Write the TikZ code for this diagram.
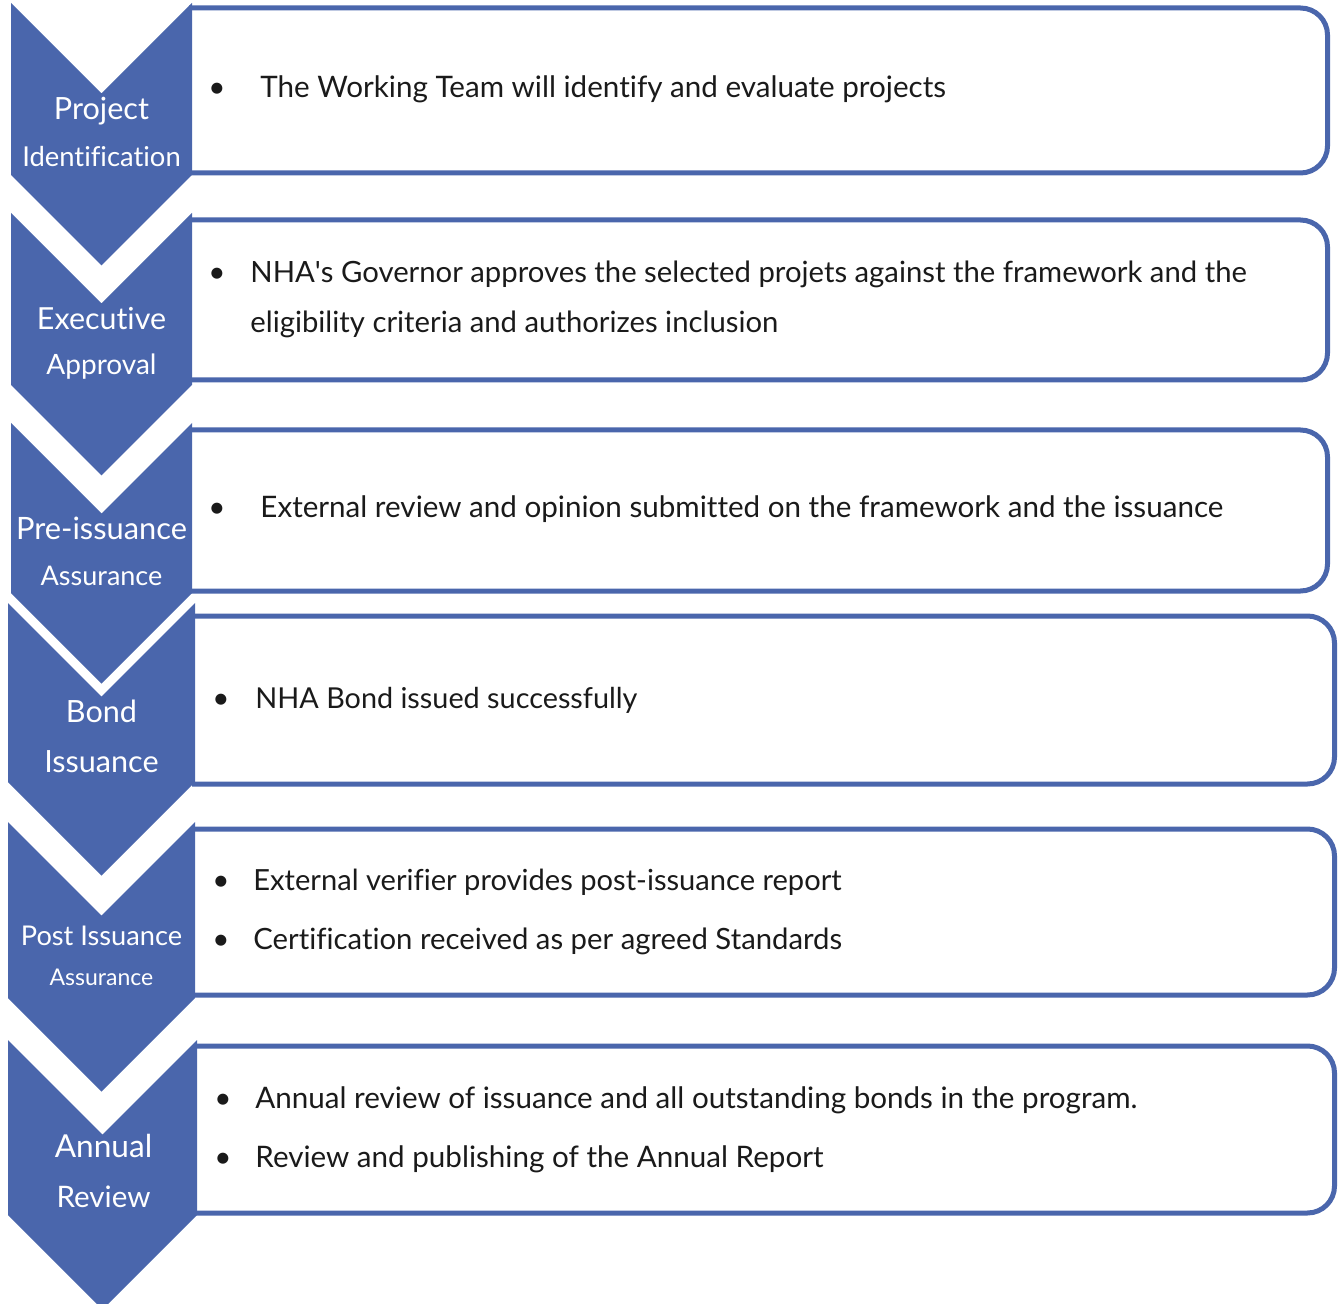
\documentclass[tikz,border=0pt]{standalone}
\usepackage{fontspec}
\setmainfont{Lato}[Ligatures={NoCommon}]
\definecolor{stepblue}{HTML}{4A66AC}
\definecolor{inktext}{HTML}{1A1A1A}
\newcommand{\fsz}[1]{\fontsize{#1}{#1}\selectfont}
\tikzset{
  chevfill/.style={fill=stepblue},
  boxline/.style={draw=stepblue, line width=2.5pt, rounded corners=13.5pt},
  body/.style={inner sep=0pt, text=inktext, font=\fsz{14.8}},
  lab/.style={inner sep=0pt, text=white, anchor=base},
}
% chevron: left, right, top, bottom of the straight sides
\newcommand{\chevshape}[4]{%
  \pgfmathsetmacro\chevc{(#1+#2)/2}%
  \pgfmathsetmacro\chevd{(#2-#1)/2}%
  \fill[chevfill] (#1,#3) -- (\chevc,#3+\chevd) -- (#2,#3) -- (#2,#4)
    -- (\chevc,#4+\chevd) -- (#1,#4) -- cycle;}
% detail box with rounded right corners: left, right, top, bottom
\newcommand{\detailbox}[4]{%
  \draw[boxline] (#1,#3) -- (#2,#3) -- (#2,#4) -- (#1,#4);}
\begin{document}
\begin{tikzpicture}[x=0.5pt,y=-0.5pt]
\useasboundingbox (0,0) rectangle (1338,1304);
\clip (0,0) rectangle (1338,1304);

% detail boxes
\detailbox{189}{1327.5}{8}{173}
\detailbox{189}{1327.5}{220}{380}
\detailbox{189}{1327.5}{430}{591}
\detailbox{192}{1334.5}{616}{784}
\detailbox{192}{1334.5}{829}{995}
\detailbox{194}{1334.5}{1046}{1213}

% chevrons
\chevshape{11}{192}{3}{175}
\chevshape{11}{192}{213}{385}
\chevshape{11}{192}{423}{593}
\chevshape{8}{195}{603}{782}
\chevshape{8}{195}{822}{998}
\chevshape{8}{197}{1040}{1215}

% step labels
\node[lab, font=\fsz{15.3}] (l1a) at (101.5,120) {Project};
\node[lab, font=\fsz{13.7}] (l1b) at (101.5,167) {Identification};
\node[lab, font=\fsz{15.2}] (l2a) at (101.5,330) {Executive};
\node[lab, font=\fsz{14}] (l2b) at (101.5,375) {Approval};
\node[lab, font=\fsz{15.4}] (l3a) at (101.5,540) {Pre-issuance};
\node[lab, font=\fsz{13.5}] (l3b) at (101.5,585) {Assurance};
\node[lab, font=\fsz{15.3}] (l4a) at (101.5,722) {Bond};
\node[lab, font=\fsz{15.3}] (l4b) at (101.5,772) {Issuance};
\node[lab, font=\fsz{13.6}] (l5a) at (101.5,945) {Post Issuance};
\node[lab, font=\fsz{11.5}] (l5b) at (101.5,985) {Assurance};
\node[lab, font=\fsz{15.8}] (l6a) at (103.5,1157) {Annual};
\node[lab, font=\fsz{14.8}] (l6b) at (103.5,1207) {Review};

% bullets
\node[body, anchor=base] (b1) at (217,98) {\textbullet};
\node[body, anchor=base] (b2) at (217,283) {\textbullet};
\node[body, anchor=base] (b3) at (217,518) {\textbullet};
\node[body, anchor=base] (b4) at (221,708) {\textbullet};
\node[body, anchor=base] (b5) at (221,890) {\textbullet};
\node[body, anchor=base] (b6) at (221,949) {\textbullet};
\node[body, anchor=base] (b7) at (223,1108) {\textbullet};
\node[body, anchor=base] (b8) at (223,1167) {\textbullet};

% detail texts
\node[body, anchor=base west] (t1) at (260,98) {The Working Team will identify and evaluate projects};
\node[body, anchor=base west, font=\fsz{14.64}] (t2) at (250,283) {NHA\textquotesingle s Governor approves the selected projets against the framework and the};
\node[body, anchor=base west, font=\fsz{14.64}] (t2b) at (250,333) {eligibility criteria and authorizes inclusion};
\node[body, anchor=base west] (t3) at (260,518) {External review and opinion submitted on the framework and the issuance};
\node[body, anchor=base west, font=\fsz{14.4}] (t4) at (255,708) {NHA Bond issued successfully};
\node[body, anchor=base west, font=\fsz{14.55}] (t5) at (253,890) {External verifier provides post-issuance report};
\node[body, anchor=base west, font=\fsz{14.65}] (t6) at (253,949) {Certification received as per agreed Standards};
\node[body, anchor=base west] (t7) at (255,1108) {Annual review of issuance and all outstanding bonds in the program.};
\node[body, anchor=base west] (t8) at (255,1167) {Review and publishing of the Annual Report};
\end{tikzpicture}
\end{document}
